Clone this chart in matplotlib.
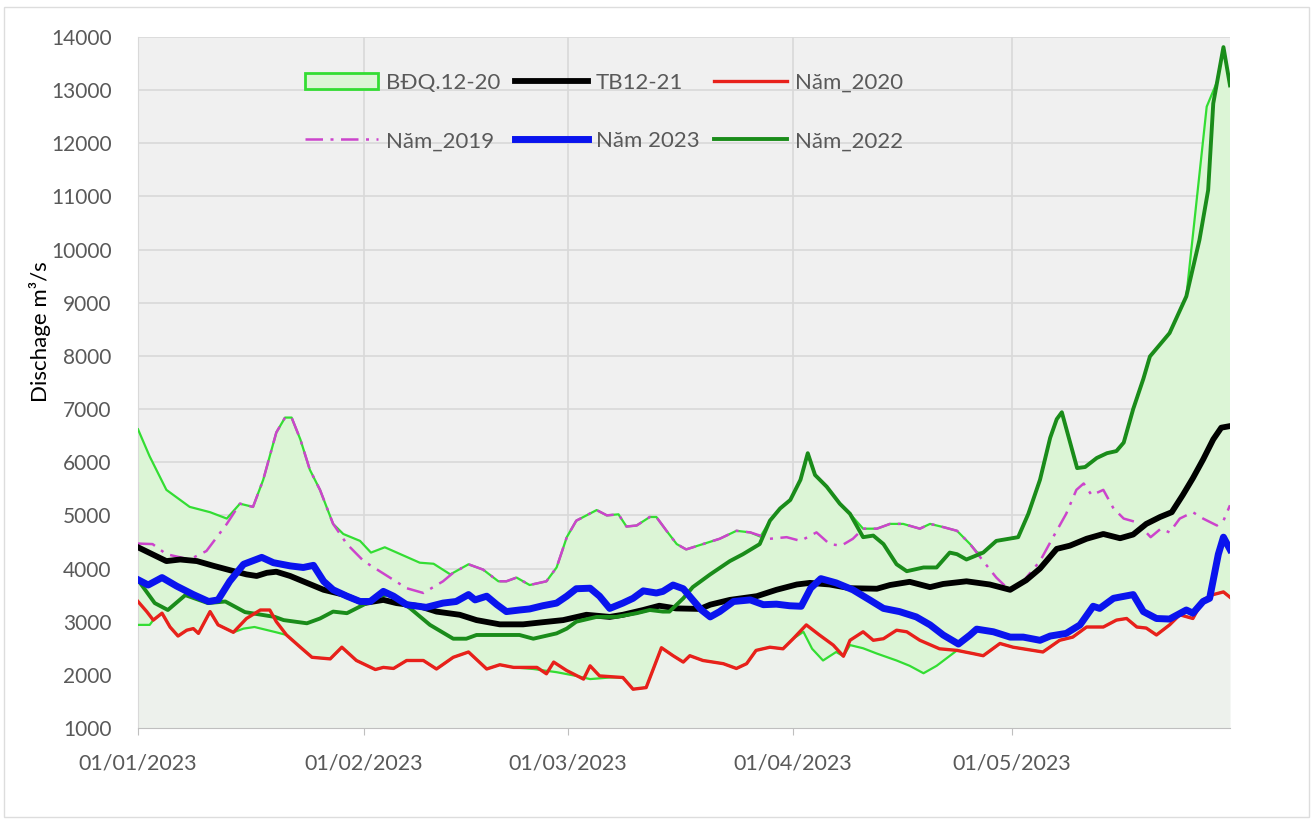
import numpy as np
import matplotlib
matplotlib.use("Agg")
import matplotlib.pyplot as plt
from matplotlib.patches import Patch, Rectangle

# ---- data (day offset from 01/01/2023, discharge m3/s) ----
tick_days = [0, 31, 59, 90, 120]
tick_labels = ["01/01/2023", "01/02/2023", "01/03/2023", "01/04/2023", "01/05/2023"]

upper_days = [0, 1.6, 3.9, 7.1, 9.9, 12.2, 14, 15.8, 17.2, 19, 20.2, 21.1, 22.3, 23.6, 25, 26.8,
              28.2, 30.5, 32, 33.9, 38.7, 40.6, 42.9, 45.4, 47.4, 49.5, 50.6, 52, 53.8, 56.1, 57.5,
              58.9, 60.2, 61.6, 63, 64.4, 66, 67.1, 68.5, 70.3, 71.2, 72.6, 74, 75.3, 77.6, 79.9,
              82.2, 84.1, 85.5, 86.8, 88.2, 89.6, 91, 92, 93, 94.6, 96.4, 97.8, 99.6, 101.5, 103.3,
              105.1, 107.4, 108.8, 110.6, 112.5, 114.3, 115.3, 116.1, 117.9, 120.9, 122.3, 123.9,
              125.3, 126.2, 126.9, 127.8, 129, 130.1, 131.7, 133.1, 134.4, 135.4, 136.7, 138.1, 139,
              141.7, 144, 146.8, 148.2, 149.1, 150]
upper_vals = [6620, 6110, 5480, 5160, 5060, 4940, 5220, 5160, 5670, 6560, 6840, 6840, 6430, 5860, 5480, 4840,
              4650, 4520, 4300, 4400, 4110, 4090, 3890, 4080, 3980, 3760, 3760, 3830, 3690, 3760, 4020,
              4590, 4900, 5000, 5100, 5000, 5020, 4790, 4810, 4970, 4970, 4710, 4460, 4360, 4460, 4560,
              4710, 4680, 4600, 4900, 5130, 5290, 5670, 6170, 5760, 5540, 5220, 5030, 4750, 4750, 4840,
              4840, 4750, 4840, 4780, 4710, 4460, 4300, 4300, 4520, 4590, 5030, 5670,
              6460, 6810, 6940, 6490, 5890, 5910, 6080, 6170, 6210, 6370, 7000, 7570, 7990,
              8430, 9120, 12690, 13150, 13810, 13090]

lower_days = [0, 1.6, 2.1, 3.3, 4.4, 5.5, 6.7, 7.6, 8.3, 9.9, 11, 13.1, 14.5, 16, 17.5, 19, 20.4, 22.3,
              23.9, 26.4, 28, 30, 32.6, 33.7, 35.1, 36.9, 39.2, 41, 43.3, 45.4, 47.9, 49.7, 51.6, 54.3,
              57.5, 60.2, 62.1, 64.8, 66.6, 68, 69.8, 71.9, 73.5, 74.9, 75.8, 77.6, 80.4, 82.2, 83.6,
              84.9, 86.8, 88.6, 90, 91.4, 92.6, 94.1, 95.9, 96.9, 97.8, 99.6, 101.5, 104.2, 106, 107.9,
              109.7, 112.5, 114.7, 116.1, 118.4, 120.2, 124.3, 126.6, 128.4, 130.3, 132.6, 134.4, 135.8,
              137.2, 138.5, 139.9, 141.7, 143.1, 144.9, 146.3, 147.7, 149.1, 150]
lower_vals = [2940, 2940, 3030, 3160, 2900, 2730, 2840, 2870, 2780, 3190, 2940, 2800, 2870, 2900, 2850, 2800, 2750, 2520,
              2330, 2300, 2520, 2270, 2100, 2140, 2120, 2270, 2270, 2110, 2330, 2430, 2110, 2190, 2140, 2110,
              2050, 1980, 1920, 1950, 1950, 1730, 1760, 2510, 2360, 2240, 2360, 2270, 2210, 2120, 2210,
              2460, 2520, 2490, 2680, 2810, 2490, 2270, 2430, 2350, 2560, 2500, 2400, 2270, 2170, 2030,
              2170, 2460, 2400, 2360, 2590, 2520, 2430, 2650, 2710, 2900, 2900, 3030, 3060,
              2900, 2880, 2750, 2940, 3130, 3060, 3410, 3510, 3560, 3460]

tb_days = [0, 3.9, 5.8, 8.1, 10.4, 12.6, 14.9, 16.3, 17.7, 19, 20.9, 23.2, 25.5, 28.2, 31, 33.7, 35.5,
           38.7, 41, 44.2, 46.5, 49.7, 52.9, 55.6, 58.4, 61.6, 64.8, 66.6, 69.4, 71.6, 73.9, 77.2, 78.6,
           81.3, 85, 87.7, 90.5, 92.3, 95, 97.8, 101.5, 103.3, 106, 108.8, 110.6, 113.8, 117, 119.8, 122,
           123.9, 126.2, 128, 130.3, 132.6, 134.9, 136.7, 138.5, 140.4, 142, 143.5, 144.9, 146.3, 147.7,
           148.8, 150]
tb_vals = [4400, 4140, 4170, 4140, 4050, 3970, 3890, 3860, 3920, 3940, 3860, 3730, 3600, 3510, 3350, 3410, 3350,
           3290, 3190, 3130, 3030, 2950, 2950, 2990, 3030, 3130, 3090, 3130, 3220, 3300, 3250, 3240, 3320,
           3410, 3480, 3600, 3700, 3730, 3700, 3630, 3620, 3690, 3750, 3650, 3710, 3760, 3700, 3600, 3780,
           4000, 4370, 4430, 4560, 4650, 4570, 4640, 4840, 4970, 5060, 5380, 5700, 6050, 6430,
           6650, 6680]

y2023_days = [0, 1.4, 3.3, 5.3, 7.6, 9.7, 11, 12.6, 14.5, 17, 18.6, 20.9, 22.7, 24.1, 25.5, 26.8, 28.7,
              30.5, 31.9, 33.7, 35.1, 36.9, 39.6, 41.9, 43.7, 45.4, 46.3, 47.9, 49.3, 50.6, 52.4, 53.8,
              55.6, 57.5, 58.9, 60.2, 62.1, 63.4, 64.8, 66.6, 68, 69.4, 71.2, 72.1, 73.5, 74.9, 76.2,
              77.4, 78.6, 79.9, 81.8, 84.1, 85.9, 87.7, 89.5, 91.1, 92.4, 93.8, 95.9, 98.2, 100.5, 102.4,
              104.6, 106.9, 108.8, 110.6, 112.7, 114.3, 115.2, 117.5, 119.8, 121.6, 123.9, 125.3, 127.5,
              129.4, 131.2, 132.1, 134, 136.7, 138.1, 139.9, 141.7, 144, 144.9, 146.3, 147.2, 148.4,
              149.1, 150]
y2023_vals = [3790, 3690, 3830, 3670, 3510, 3380, 3410, 3760, 4080, 4210, 4110, 4050, 4020, 4060, 3760, 3600, 3480,
              3380, 3380, 3570, 3480, 3320, 3270, 3350, 3380, 3510, 3410, 3480, 3320, 3190, 3220, 3240,
              3300, 3350, 3480, 3620, 3630, 3480, 3250, 3350, 3440, 3580, 3540, 3570, 3690, 3620, 3410,
              3220, 3090, 3190, 3380, 3410, 3320, 3330, 3300, 3290, 3630, 3810, 3730, 3600, 3410, 3250,
              3190, 3090, 2940, 2750, 2580, 2750, 2860, 2810, 2710, 2710, 2650, 2730, 2780,
              2940, 3290, 3250, 3440, 3510, 3190, 3060, 3050, 3220, 3160, 3380, 3440, 4270,
              4590, 4360]

y2020_days = [0, 1.2, 2.1, 3.3, 4.4, 5.5, 6.7, 7.6, 8.3, 9.9, 11, 13.1, 14.9, 16.8, 18.1, 19, 20.4, 22.3,
              23.9, 26.4, 28, 30, 32.6, 33.7, 35.1, 36.9, 39.2, 41, 43.3, 45.4, 47.9, 49.7, 51.6, 54.8,
              56.1, 57.1, 58.9, 61.2, 62.1, 63.4, 66.6, 68, 69.8, 71.9, 73.5, 74.9, 75.8, 77.6, 80.4, 82.2,
              83.6, 84.9, 86.8, 88.6, 90, 91.8, 93.6, 95.5, 96.9, 97.8, 99.6, 101, 102.4, 104.2, 105.6,
              107.4, 110.1, 112.5, 114.7, 116.1, 118.4, 120.2, 124.3, 126.6, 128.4, 130.3, 132.6, 134.4,
              135.8, 137.2, 138.5, 139.9, 141.7, 143.1, 144.9, 146.3, 147.7, 149.1, 150]
y2020_vals = [3380, 3190, 3030, 3160, 2900, 2730, 2840, 2870, 2780, 3190, 2940, 2800, 3060, 3220, 3220, 3000, 2750, 2520,
              2330, 2300, 2520, 2270, 2100, 2140, 2120, 2270, 2270, 2110, 2330, 2430, 2110, 2190, 2140, 2140,
              2020, 2240, 2080, 1920, 2170, 1980, 1950, 1730, 1760, 2510, 2360, 2240, 2360, 2270, 2210, 2120,
              2210, 2460, 2520, 2490, 2680, 2940, 2750, 2560, 2350, 2650, 2810, 2650, 2680, 2840, 2810,
              2650, 2490, 2460, 2400, 2360, 2590, 2520, 2430, 2650, 2710, 2900, 2900, 3030,
              3060, 2900, 2880, 2750, 2940, 3130, 3060, 3410, 3510, 3560, 3460]

y2022_days = [0, 2.3, 4.1, 6.5, 9.6, 12, 14.7, 18.8, 20, 23.2, 25, 26.8, 28.7, 31, 32.8, 34.2, 35.5, 37.4,
              40.1, 43.3, 45.1, 46.5, 52.4, 54.3, 57.5, 58.9, 60.2, 63, 65.7, 68.5, 70.3, 72.1, 73, 74.9,
              76.2, 78.6, 81.3, 83.1, 85.4, 86.8, 88.2, 89.6, 91, 92, 93, 94.6, 96.4, 97.8, 99.6, 101,
              102.4, 104.2, 105.6, 107.9, 109.7, 111.5, 112.5, 113.8, 116.1, 117.9, 120.9, 122.3, 123.9,
              125.3, 126.2, 126.9, 127.8, 129, 130.1, 131.7, 133.1, 134.4, 135.4, 136.7, 138.1, 139,
              141.7, 144, 145.8, 147, 147.7, 149.1, 150]
y2022_vals = [3785, 3350, 3220, 3500, 3350, 3380, 3180, 3090, 3030, 2970, 3060, 3190, 3160, 3320, 3480, 3510, 3440, 3250,
              2940, 2680, 2680, 2750, 2750, 2680, 2780, 2870, 3000, 3090, 3090, 3160, 3220, 3190, 3190, 3440,
              3650, 3890, 4140, 4270, 4460, 4900, 5130, 5290, 5670, 6170, 5760, 5540, 5220, 5030, 4590, 4620,
              4460, 4080, 3950, 4020, 4020, 4300, 4270, 4170, 4300, 4520, 4590, 5030, 5670,
              6460, 6810, 6940, 6490, 5890, 5910, 6080, 6170, 6210, 6370, 7000, 7570, 7990,
              8430, 9120, 10180, 11120, 12750, 13810, 13090]

y2019_days = [0, 2, 3.9, 7.1, 9.4, 12.2, 14, 15.8, 17.2, 19, 20.2, 21.1, 22.3, 23.6, 25, 26.8, 28.7, 31,
              33.2, 36.9, 39.2, 41.9, 43.3, 45.4, 47.4, 49.5, 50.6, 52, 53.8, 56.1, 57.5, 58.9, 60.2, 61.6,
              63, 64.4, 66, 67.1, 68.5, 70.3, 71.2, 72.6, 74, 75.3, 77.6, 79.9, 82.2, 84.1, 86.8, 89.1, 91,
              93.2, 95, 96.6, 98.2, 99.6, 101.5, 103.3, 105.1, 107.4, 108.8, 110.6, 112.5, 114.3, 116.1,
              117.9, 119.8, 121.6, 123.9, 125.7, 127.5, 128.9, 129.9, 131, 132.6, 134, 135.4, 137.2, 139.1,
              140.5, 141.7, 143.1, 144.9, 146.3, 148.2, 149.1, 150]
y2019_vals = [4470, 4460, 4270, 4170, 4330, 4840, 5220, 5160, 5670, 6560, 6840, 6840, 6430, 5860, 5480, 4840, 4460, 4140,
              3950, 3630, 3540, 3760, 3920, 4080, 3980, 3760, 3760, 3830, 3690, 3760, 4020, 4590, 4900, 5000,
              5100, 5000, 5020, 4790, 4810, 4970, 4970, 4710, 4460, 4360, 4460, 4560, 4710, 4680, 4560, 4590, 4520,
              4680, 4460, 4430, 4560, 4750, 4750, 4840, 4840, 4750, 4840, 4780, 4710, 4460, 4140,
              3830, 3580, 3760, 4140, 4590, 5030, 5480, 5600, 5380, 5480, 5130, 4940, 4870, 4590,
              4750, 4680, 4940, 5060, 4940, 4810, 4900, 5190]

plt.rcParams["font.family"] = ["Lato", "DejaVu Sans"]

fig = plt.figure(figsize=(13.16, 8.19), dpi=100)
fig.patches.append(Rectangle((0.003, 0.002), 0.992, 0.99, transform=fig.transFigure,
                             fill=False, edgecolor="#dddddd", linewidth=1))
ax = fig.add_axes([138 / 1316, 1 - 728 / 819, (1230 - 138) / 1316, (728 - 37) / 819])
ax.set_facecolor("#f0f0f0")

# band between min and max
ax.fill_between(lower_days, 1000, lower_vals, color="#edf1ec", lw=0, zorder=1)
ax.fill(list(upper_days) + list(lower_days[::-1]), list(upper_vals) + list(lower_vals[::-1]),
        color="#dcf5d6", lw=0, zorder=1)
ax.plot(upper_days, upper_vals, color="#33dd33", lw=1.6, zorder=3)
ax.plot(lower_days, lower_vals, color="#33dd33", lw=1.6, zorder=3)

ax.plot(y2019_days, y2019_vals, color="#cc44cc", lw=1.8, dashes=(7, 3, 1.2, 3), zorder=4)
ax.plot(tb_days, tb_vals, color="black", lw=4.2, zorder=5)
ax.plot(y2022_days, y2022_vals, color="#1a8c1a", lw=2.8, zorder=6)
ax.plot(y2020_days, y2020_vals, color="#e8211b", lw=2.4, zorder=7)
ax.plot(y2023_days, y2023_vals, color="#0a14ee", lw=5, zorder=8)

ax.set_xlim(0, 150)
ax.set_ylim(1000, 14000)
ax.set_yticks(range(1000, 14001, 1000))
ax.set_xticks(tick_days)
ax.set_xticklabels(tick_labels)
ax.grid(True, color="#d9d9d9", lw=1.2, zorder=0)
ax.set_axisbelow(True)
for s in ["top", "right"]:
    ax.spines[s].set_visible(False)
ax.spines["left"].set_color("#d9d9d9")
ax.spines["bottom"].set_color("#bfbfbf")
ax.tick_params(axis="y", length=0, pad=19, labelsize=15, labelcolor="#595959")
ax.tick_params(axis="x", length=5, color="#bfbfbf", pad=13, labelsize=15.5, labelcolor="#595959")

ax.set_ylabel("Dischage m³/s", fontsize=16, color="black")
ax.yaxis.set_label_coords(-0.08, 0.573)

handles = [
    Patch(facecolor="#dcf5d6", edgecolor="#33dd33", lw=2),
    plt.Line2D([], [], color="#cc44cc", lw=1.8, dashes=(7, 3, 1.2, 3)),
    plt.Line2D([], [], color="black", lw=4.2),
    plt.Line2D([], [], color="#0a14ee", lw=5),
    plt.Line2D([], [], color="#e8211b", lw=2.4),
    plt.Line2D([], [], color="#1a8c1a", lw=2.8),
]
labels = ["BĐQ.12-20", "Năm_2019", "TB12-21", "Năm 2023", "Năm_2020", "Năm_2022"]
leg = ax.legend(handles, labels, ncol=3, loc="upper left",
                bbox_to_anchor=(305 / 1316, 1 - 73 / 819), bbox_transform=fig.transFigure,
                frameon=False, fontsize=16, handlelength=3.3, handleheight=0.7,
                handletextpad=0.36, columnspacing=0.63, labelspacing=1.72,
                borderpad=0, borderaxespad=0)
for t in leg.get_texts():
    t.set_color("#595959")

fig.savefig("out.png", dpi=100)
